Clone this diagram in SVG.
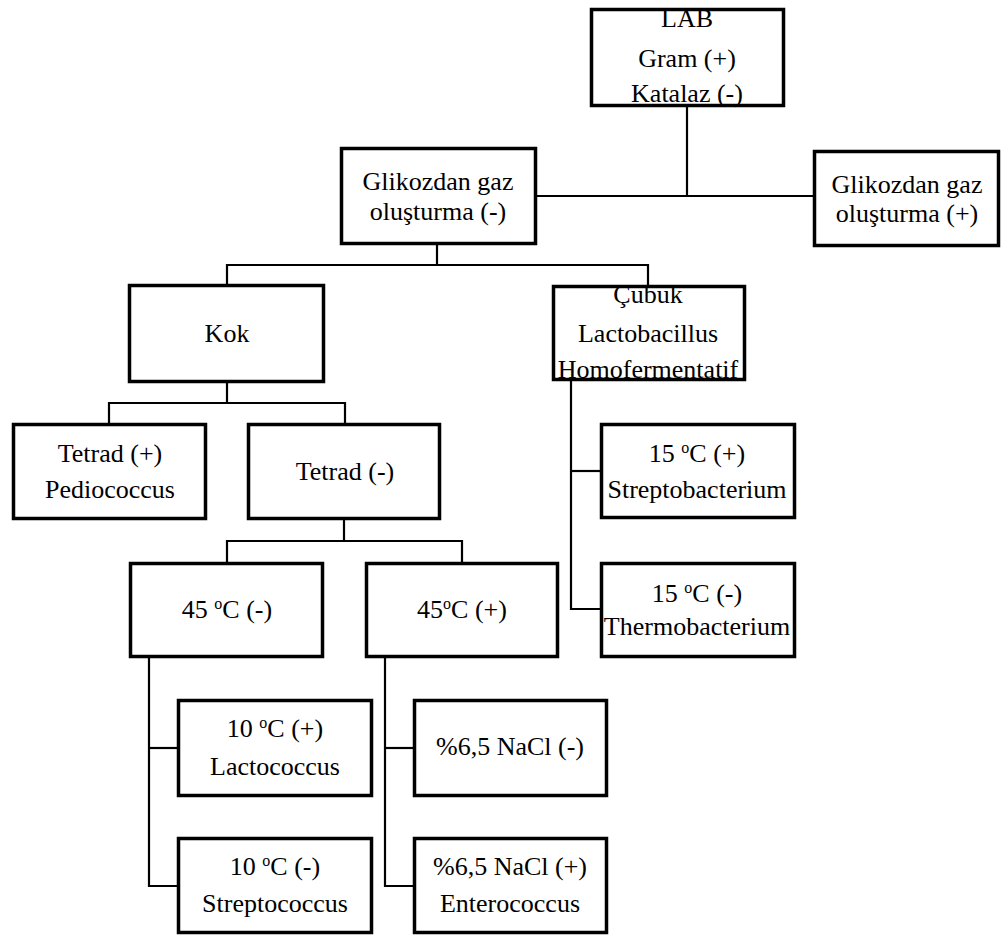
<svg xmlns="http://www.w3.org/2000/svg" width="1002" height="936" viewBox="0 0 1002 936">
<style>
.box{fill:#fff;stroke:#000;stroke-width:3.5}
.ln{fill:none;stroke:#000;stroke-width:2.2}
.sup{font-size:16px}
</style>
<rect width="1002" height="936" fill="#fff"/>
<g id="connectors">
<polyline class="ln" points="687,107 687,196"/>
<polyline class="ln" points="537,196 813,196"/>
<polyline class="ln" points="437,245 437,265"/>
<polyline class="ln" points="227,284 227,265 648,265 648,285"/>
<polyline class="ln" points="227,383 227,403"/>
<polyline class="ln" points="109,423 109,403 345,403 345,423"/>
<polyline class="ln" points="344,520 344,541"/>
<polyline class="ln" points="227,562 227,541 462,541 462,562"/>
<polyline class="ln" points="149,658 149,886 177,886"/>
<polyline class="ln" points="149,748 177,748"/>
<polyline class="ln" points="385,658 385,886 413,886"/>
<polyline class="ln" points="385,748 413,748"/>
<polyline class="ln" points="571,381 571,609 600,609"/>
<polyline class="ln" points="571,471 600,471"/>
</g>
<g id="nodes" font-family="Liberation Serif" font-size="26" text-anchor="middle" fill="#000">
<g id="lab">
<rect class="box" x="591.5" y="9.5" width="192" height="96"/>
<text x="687" y="27">LAB</text>
<text x="687" y="67">Gram (+)</text>
<text x="687" y="102">Katalaz (-)</text>
</g>
<g id="gaz-neg">
<rect class="box" x="341.5" y="148.5" width="194" height="95"/>
<text x="438" y="190">Glikozdan gaz</text>
<text x="438" y="220">oluşturma (-)</text>
</g>
<g id="gaz-pos">
<rect class="box" x="814.5" y="151.5" width="184" height="94"/>
<text x="907" y="193">Glikozdan gaz</text>
<text x="907" y="222">oluşturma (+)</text>
</g>
<g id="kok">
<rect class="box" x="129.5" y="285.5" width="194" height="96"/>
<text x="227" y="342">Kok</text>
</g>
<g id="cubuk">
<rect class="box" x="553.5" y="286.5" width="191" height="93"/>
<text x="648" y="303">Çubuk</text>
<text x="648" y="342">Lactobacillus</text>
<text x="648" y="378">Homofermentatif</text>
</g>
<g id="tetrad-pos">
<rect class="box" x="13.5" y="424.5" width="192" height="94"/>
<text x="110" y="462">Tetrad (+)</text>
<text x="110" y="498">Pediococcus</text>
</g>
<g id="tetrad-neg">
<rect class="box" x="248.5" y="424.5" width="191" height="94"/>
<text x="345" y="480">Tetrad (-)</text>
</g>
<g id="c15-pos">
<rect class="box" x="601.5" y="424.5" width="193" height="93"/>
<text x="697" y="462">15 <tspan class="sup" dy="-9">o</tspan><tspan dy="9">C (+)</tspan></text>
<text x="697" y="498">Streptobacterium</text>
</g>
<g id="c15-neg">
<rect class="box" x="601.5" y="563.5" width="193" height="93"/>
<text x="697" y="602">15 <tspan class="sup" dy="-9">o</tspan><tspan dy="9">C (-)</tspan></text>
<text x="697" y="635">Thermobacterium</text>
</g>
<g id="c45-neg">
<rect class="box" x="130.5" y="563.5" width="192" height="93"/>
<text x="227" y="618">45 <tspan class="sup" dy="-9">o</tspan><tspan dy="9">C (-)</tspan></text>
</g>
<g id="c45-pos">
<rect class="box" x="366.5" y="563.5" width="191" height="93"/>
<text x="462" y="618">45<tspan class="sup" dy="-9">o</tspan><tspan dy="9">C (+)</tspan></text>
</g>
<g id="c10-pos">
<rect class="box" x="178.5" y="700.5" width="193" height="95"/>
<text x="275" y="737">10 <tspan class="sup" dy="-9">o</tspan><tspan dy="9">C (+)</tspan></text>
<text x="275" y="775">Lactococcus</text>
</g>
<g id="c10-neg">
<rect class="box" x="178.5" y="838.5" width="193" height="94"/>
<text x="275" y="875">10 <tspan class="sup" dy="-9">o</tspan><tspan dy="9">C (-)</tspan></text>
<text x="275" y="912">Streptococcus</text>
</g>
<g id="nacl-neg">
<rect class="box" x="414.5" y="700.5" width="192" height="95"/>
<text x="510" y="755">%6,5 NaCl (-)</text>
</g>
<g id="nacl-pos">
<rect class="box" x="414.5" y="838.5" width="192" height="94"/>
<text x="510" y="875">%6,5 NaCl (+)</text>
<text x="510" y="912">Enterococcus</text>
</g>
</g>
</svg>
